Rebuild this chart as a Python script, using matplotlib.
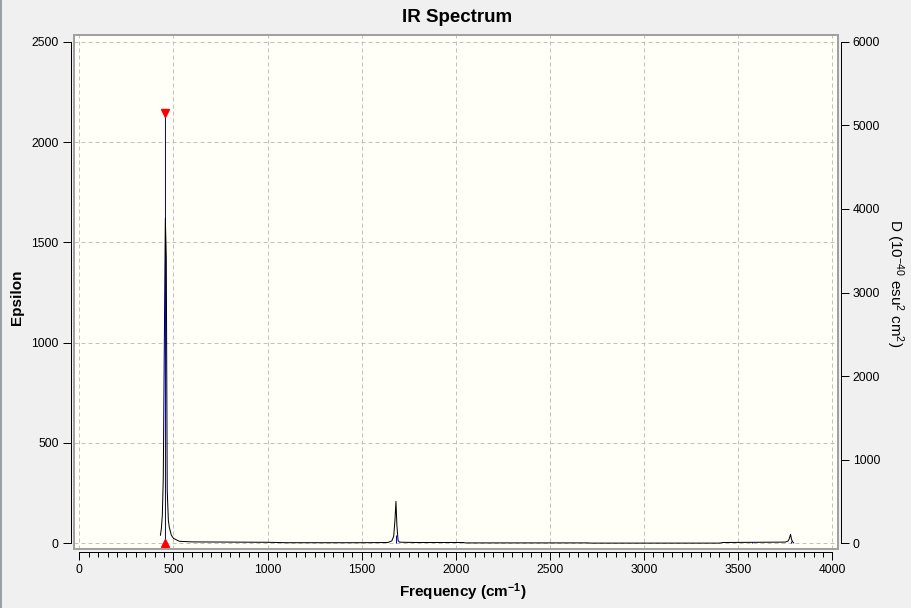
import matplotlib
matplotlib.use('Agg')
import matplotlib.pyplot as plt
from matplotlib.patches import Rectangle
from matplotlib.lines import Line2D
from matplotlib.ticker import MultipleLocator

plt.rcParams['font.family'] = ['Liberation Sans', 'DejaVu Sans']
plt.rcParams['mathtext.fontset'] = 'custom'
plt.rcParams['mathtext.rm'] = 'Liberation Sans'
plt.rcParams['mathtext.it'] = 'Liberation Sans:italic'
plt.rcParams['mathtext.bf'] = 'Liberation Sans:bold'

# ---- data ----
freq = [431, 436, 441, 446, 452, 457, 462, 467, 473, 478, 489, 500, 531, 600, 800,
        1000, 1100, 1300, 1500, 1640, 1660, 1670, 1677, 1682, 1687, 1693, 1700, 1720,
        1800, 2040, 2050, 2400, 2700, 2720, 3000, 3400, 3420, 3600, 3750, 3766, 3772,
        3778, 3783, 3790, 3795]
epsilon = [40, 75, 140, 324, 1036, 1621, 1425, 264, 115, 80, 40, 25, 10, 7, 6,
           5, 3, 3, 3, 4, 12, 35, 120, 209, 90, 15, 6, 5,
           4, 4, 2, 2, 2, 1, 1, 1, 4, 5, 6, 12, 25,
           45, 20, 6, 2]

stick_freq = [457, 1682, 3575, 3778]
stick_D = [5150, 96, 10, 30]
selected = 0

x_ticks = [0, 500, 1000, 1500, 2000, 2500, 3000, 3500, 4000]
eps_ticks = [0, 500, 1000, 1500, 2000, 2500]
d_ticks = [0, 1000, 2000, 3000, 4000, 5000, 6000]

# ---- figure ----
W, H = 911, 608
fig = plt.figure(figsize=(W / 100, H / 100), dpi=100, facecolor='#f0f0f0')
box_l, box_r, box_t, box_b = 74, 837.6, 35, 549.3
ax = fig.add_axes([box_l / W, 1 - box_b / H, (box_r - box_l) / W, (box_b - box_t) / H])
ax.set_facecolor('#fffff7')
ax.set_xlim(-28.2, 4028)
ax.set_ylim(-29.9, 2533.4)

ax2 = ax.twinx()
ax2.set_ylim(-29.9 * 2.4, 2533.4 * 2.4)

for s in ['top', 'right']:
    ax.spines[s].set_visible(False)
for s in ['top', 'left', 'bottom']:
    ax2.spines[s].set_visible(False)

px = 0.72
ax.spines['left'].set_position(('outward', 3 * px))
ax.spines['left'].set_bounds(0, 2500)
ax.spines['bottom'].set_position(('outward', 3 * px))
ax.spines['bottom'].set_bounds(0, 4000)
ax2.spines['right'].set_position(('outward', 3 * px))
ax2.spines['right'].set_bounds(0, 6000)
for sp in [ax.spines['left'], ax.spines['bottom'], ax2.spines['right']]:
    sp.set_linewidth(1 * px)
    sp.set_color('black')

ax.add_patch(Rectangle((0, 0), 1, 1, transform=ax.transAxes, fill=False,
                       edgecolor='#a0a0a0', lw=2 * px, clip_on=False, zorder=5))

ax.set_xticks(x_ticks)
ax.xaxis.set_minor_locator(MultipleLocator(50))
ax.set_yticks(eps_ticks)
ax2.set_yticks(d_ticks)
ax.tick_params(axis='x', which='major', length=8 * px, width=px, pad=3, labelsize=8.7)
ax.tick_params(axis='x', which='minor', length=5 * px, width=px)
ax.tick_params(axis='y', which='major', length=8 * px, width=px, pad=3, labelsize=8.7)
ax2.tick_params(axis='y', which='major', length=8 * px, width=px, pad=3, labelsize=8.7)

ax.grid(True, which='major', color='#c0c0c0', linestyle=(0, (4, 3)), linewidth=px)
ax.set_axisbelow(True)

# sticks (D units, right axis scale), then spectrum curve on top
ax.vlines(stick_freq, 0, stick_D, colors='#0000ff', lw=1 * px, zorder=2,
          transform=ax2.transData)
ax.plot(freq, epsilon, color='black', lw=1 * px, zorder=3)
ax.plot([stick_freq[selected]], [stick_D[selected]], marker='v', color='red',
        markersize=5.5, linestyle='none', transform=ax2.transData, zorder=4, clip_on=False)
ax.plot([stick_freq[selected]], [0], marker='^', color='red',
        markersize=5.5, linestyle='none', transform=ax2.transData, zorder=4, clip_on=False)

# labels
fig.text(457 / W, 1 - 17 / H, 'IR Spectrum', ha='center', va='center',
         fontsize=13.5, fontweight='bold')
fig.text(463 / W, 1 - 592 / H, r'Frequency (cm$^{\mathbf{-1}}$)', ha='center', va='center',
         fontsize=11, fontweight='bold')
fig.text(17 / W, 1 - 297 / H, 'Epsilon', ha='center', va='center', rotation=90,
         fontsize=11, fontweight='bold')
fig.text(895 / W, 1 - 283 / H, r'D (10$^{-40}$ esu$^{2}$ cm$^{2}$)', ha='center',
         va='center', rotation=270, fontsize=11)

fig.add_artist(Line2D([0.6 / W, 0.6 / W], [0, 1], color='#7d8590', lw=1.5 * px))

fig.savefig('out.png', dpi=100, facecolor=fig.get_facecolor())
